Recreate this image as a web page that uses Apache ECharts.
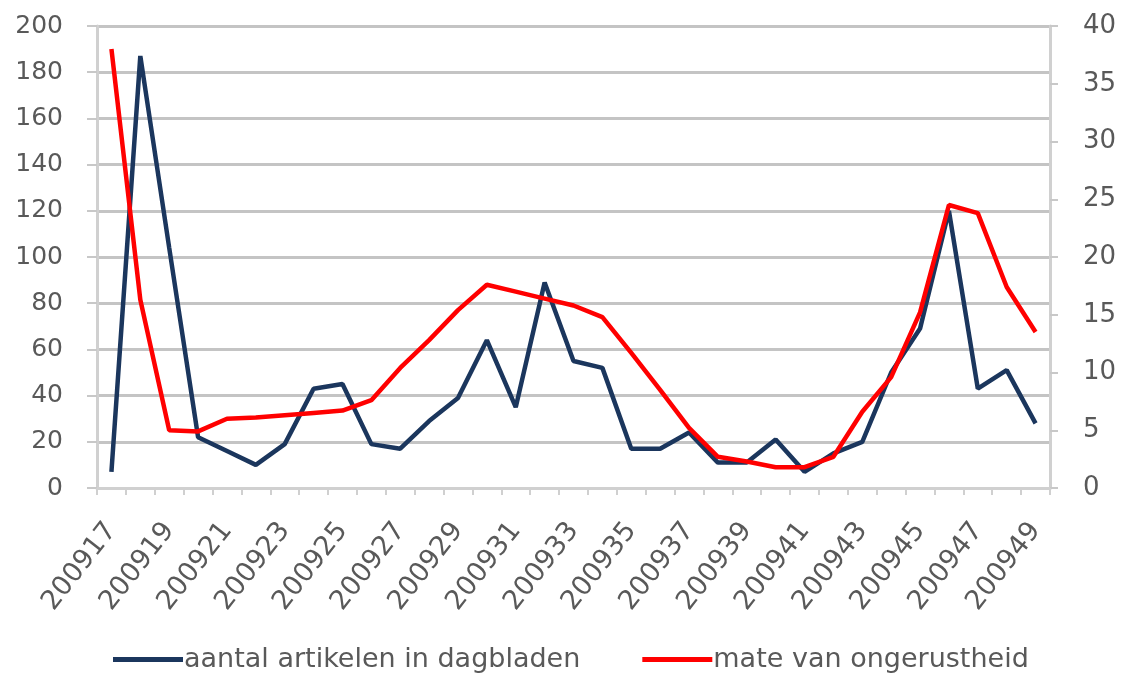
<!DOCTYPE html>
<html>
<head>
<meta charset="utf-8">
<script src="https://cdn.jsdelivr.net/npm/echarts@6/dist/echarts.min.js"></script>
<style>
  html, body { margin: 0; padding: 0; background: #fff; }
  #chart { width: 1124px; height: 680px; }
</style>
</head>
<body>
<div id="chart"></div>
<script>
// weken 200917 t/m 200949
var weeks = [
  "200917", "200918", "200919", "200920", "200921", "200922", "200923", "200924",
  "200925", "200926", "200927", "200928", "200929", "200930", "200931", "200932",
  "200933", "200934", "200935", "200936", "200937", "200938", "200939", "200940",
  "200941", "200942", "200943", "200944", "200945", "200946", "200947", "200948",
  "200949"
];
// aantal artikelen in dagbladen (linker as)
var articles = [
  7, 187, 104, 22, 16, 10, 19, 43, 45, 19, 17, 29, 39, 64, 35, 89,
  55, 52, 17, 17, 24, 11, 11, 21, 7, 15, 20, 50, 69, 120, 43, 51, 28
];
// mate van ongerustheid (rechter as)
var worry = [
  38, 16.3, 5.0, 4.9, 6.0, 6.1, 6.3, 6.5, 6.7, 7.6, 10.4, 12.8, 15.4, 17.6, 17.0, 16.4,
  15.8, 14.8, 11.7, 8.5, 5.2, 2.7, 2.3, 1.8, 1.8, 2.7, 6.6, 9.6, 15.2, 24.5, 23.8, 17.4, 13.5
];
var leftTicks = { min: 0, max: 200, interval: 20 };
var rightTicks = { min: 0, max: 40, interval: 5 };

var chart = echarts.init(document.getElementById("chart"));
var font = "DejaVu Sans";
var textColor = "#595959";

var option = {
  animation: false,
  textStyle: { fontFamily: font },
  grid: { left: 97, right: 74, top: 26, bottom: 192, containLabel: false },
  legend: {
    bottom: 2,
    left: 108,
    itemWidth: 70,
    itemHeight: 5,
    itemGap: 62,
    icon: "rect",
    textStyle: { fontSize: 27, color: textColor, fontFamily: font, padding: [0, 0, 0, -4] },
    data: ["aantal artikelen in dagbladen", "mate van ongerustheid"]
  },
  xAxis: {
    type: "category",
    data: weeks,
    boundaryGap: true,
    axisLine: { lineStyle: { color: "#d0d0d0", width: 3 } },
    axisTick: { show: true, interval: 0, length: 7, lineStyle: { color: "#d0d0d0", width: 2 } },
    axisLabel: {
      interval: 1,
      rotate: 52,
      fontSize: 27,
      color: textColor,
      margin: 38
    }
  },
  yAxis: [
    {
      type: "value",
      min: leftTicks.min,
      max: leftTicks.max,
      interval: leftTicks.interval,
      axisLine: { show: true, lineStyle: { color: "#d0d0d0", width: 3 } },
      axisTick: { show: true, length: 10, lineStyle: { color: "#c8c8c8", width: 2 } },
      axisLabel: { fontSize: 25, color: textColor, margin: 34 },
      splitLine: { lineStyle: { color: "#c4c4c4", width: 3 } }
    },
    {
      type: "value",
      min: rightTicks.min,
      max: rightTicks.max,
      interval: rightTicks.interval,
      position: "right",
      axisLine: { show: true, lineStyle: { color: "#d0d0d0", width: 3 } },
      axisTick: { show: true, length: 8, lineStyle: { color: "#c8c8c8", width: 2 } },
      axisLabel: { fontSize: 26, color: textColor, margin: 33 },
      splitLine: { show: false }
    }
  ],
  series: [
    {
      name: "aantal artikelen in dagbladen",
      type: "line",
      yAxisIndex: 0,
      data: articles,
      symbol: "none",
      lineStyle: { color: "#1b365d", width: 4.5 },
      itemStyle: { color: "#1b365d" }
    },
    {
      name: "mate van ongerustheid",
      type: "line",
      yAxisIndex: 1,
      data: worry,
      symbol: "none",
      lineStyle: { color: "#ff0000", width: 4.5 },
      itemStyle: { color: "#ff0000" }
    }
  ]
};

chart.setOption(option);
</script>
</body>
</html>
